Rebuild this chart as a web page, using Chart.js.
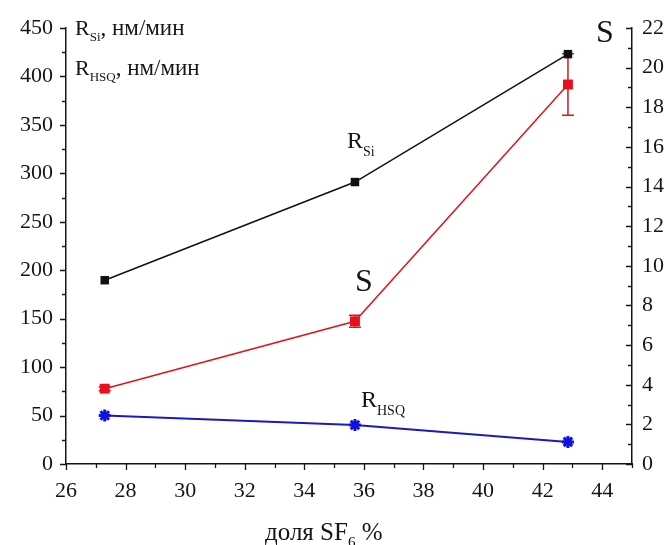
<!DOCTYPE html>
<html>
<head>
<meta charset="utf-8">
<script src="https://cdn.jsdelivr.net/npm/chart.js@4.4.1/dist/chart.umd.min.js"></script>
<style>
    body { margin: 0; background: #fff; }
    #wrap { width: 672px; height: 545px; position: relative; }
</style>
</head>
<body>
<div id="wrap"><canvas id="etchChart"></canvas></div>
<script>
// SF6 share, %
const sf6Share = [27.3, 35.7, 42.85];
// etch rates, nm/min (left axis)
const rateSi = [189.7, 291, 423];
const rateHsq = [50, 40.3, 22.8];
// selectivity (right axis) and its spread
const selectivity = [3.8, 7.2, 19.15];
const selectivityErr = [0.1, 0.3, 1.55];

// tick values
const xTicks = [26, 28, 30, 32, 34, 36, 38, 40, 42, 44];
const rateTicks = [0, 50, 100, 150, 200, 250, 300, 350, 400, 450];
const selTicks = [0, 2, 4, 6, 8, 10, 12, 14, 16, 18, 20, 22];

const serif = '"Liberation Serif", "Times New Roman", serif';
const ink = '#151515';

function points(xs, ys) {
    return xs.map((x, i) => ({ x: x, y: ys[i] }));
}

// text with sub-scripts: parts = [[text, size, dy], ...]
function drawParts(ctx, x, y, parts) {
    let cx = x;
    parts.forEach(p => {
        ctx.font = p[1] + 'px ' + serif;
        ctx.fillText(p[0], cx, y + (p[2] || 0));
        cx += ctx.measureText(p[0]).width;
    });
}

const errorBars = {
    id: 'errorBars',
    beforeDatasetsDraw(chart) {
        const ctx = chart.ctx;
        const xs = chart.scales.x, ys = chart.scales.y1;
        ctx.save();
        ctx.strokeStyle = '#e0141c';
        ctx.lineWidth = 1.5;
        sf6Share.forEach((v, i) => {
            const px = xs.getPixelForValue(v);
            const top = ys.getPixelForValue(selectivity[i] + selectivityErr[i]);
            const bot = ys.getPixelForValue(selectivity[i] - selectivityErr[i]);
            ctx.beginPath();
            ctx.moveTo(px, top); ctx.lineTo(px, bot);
            ctx.moveTo(px - 6, top); ctx.lineTo(px + 6, top);
            ctx.moveTo(px - 6, bot); ctx.lineTo(px + 6, bot);
            ctx.stroke();
        });
        ctx.restore();
    }
};

const axisDecor = {
    id: 'axisDecor',
    afterDraw(chart) {
        const ctx = chart.ctx;
        const a = chart.chartArea;
        const xs = chart.scales.x, yl = chart.scales.y, yr = chart.scales.y1;
        ctx.save();
        ctx.strokeStyle = ink;
        ctx.lineWidth = 1.3;
        ctx.beginPath();
        // x: ticks point down, minor every 1
        for (let v = 26; v <= 45; v++) {
            const px = Math.round(xs.getPixelForValue(v)) + 0.5;
            const len = v % 2 === 0 ? 6 : 4;
            ctx.moveTo(px, a.bottom); ctx.lineTo(px, a.bottom + len);
        }
        // left: ticks point out, minor every 25
        for (let v = 0; v <= 450; v += 25) {
            const py = Math.round(yl.getPixelForValue(v)) + 0.5;
            const len = v % 50 === 0 ? 6 : 4;
            ctx.moveTo(a.left, py); ctx.lineTo(a.left - len, py);
        }
        // right: ticks point in, minor every 1
        for (let v = 0; v <= 22; v++) {
            const py = Math.round(yr.getPixelForValue(v)) + 0.5;
            const len = v % 2 === 0 ? 6 : 4;
            ctx.moveTo(a.right, py); ctx.lineTo(a.right - len, py);
        }
        ctx.stroke();

        ctx.fillStyle = ink;
        ctx.textBaseline = 'alphabetic';
        ctx.textAlign = 'left';
        // units legend, top left
        drawParts(ctx, 75, 35, [['R', 22], ['Si', 13, 6], [', нм/мин', 23]]);
        drawParts(ctx, 75, 75, [['R', 22], ['HSQ', 13, 6], [', нм/мин', 23]]);
        // curve labels
        drawParts(ctx, 347, 148, [['R', 24], ['Si', 14, 8]]);
        drawParts(ctx, 361, 407, [['R', 24], ['HSQ', 14, 8]]);
        drawParts(ctx, 355, 291, [['S', 32]]);
        drawParts(ctx, 596, 42, [['S', 32]]);
        // x axis title
        drawParts(ctx, 265, 540, [['доля SF', 25], ['6', 15, 7], [' %', 25]]);
        ctx.restore();
    }
};

new Chart(document.getElementById('etchChart'), {
    type: 'line',
    data: {
        datasets: [
            {
                label: 'R_Si',
                data: points(sf6Share, rateSi),
                yAxisID: 'y',
                borderColor: '#111',
                borderWidth: 1.5,
                pointStyle: 'rect',
                pointRadius: 6,
                pointBackgroundColor: '#111',
                pointBorderColor: '#111',
                pointBorderWidth: 0
            },
            {
                label: 'S',
                data: points(sf6Share, selectivity),
                yAxisID: 'y1',
                borderColor: '#e0141c',
                borderWidth: 1.5,
                pointStyle: 'rect',
                pointRadius: 7,
                pointBackgroundColor: '#e8101a',
                pointBorderColor: '#e8101a',
                pointBorderWidth: 0
            },
            {
                label: 'R_HSQ',
                data: points(sf6Share, rateHsq),
                yAxisID: 'y',
                borderColor: '#1a1ac0',
                borderWidth: 2,
                pointStyle: 'star',
                pointRadius: 6,
                pointBorderColor: '#1010e0',
                pointBorderWidth: 3
            }
        ]
    },
    options: {
        responsive: true,
        maintainAspectRatio: false,
        animation: false,
        layout: { padding: { top: 28, left: 0, right: 0, bottom: 0 } },
        plugins: { legend: { display: false }, tooltip: { enabled: false } },
        scales: {
            x: {
                type: 'linear',
                min: 26,
                max: 45,
                afterBuildTicks: s => { s.ticks = xTicks.map(v => ({ value: v })); },
                afterFit: s => { s.height = 81; },
                grid: { display: false, drawTicks: false },
                border: { display: true, color: ink, width: 1.5 },
                ticks: { padding: 14, color: ink, font: { family: serif, size: 22 }, maxRotation: 0 }
            },
            y: {
                position: 'left',
                min: 0,
                max: 450,
                afterBuildTicks: s => { s.ticks = rateTicks.map(v => ({ value: v })); },
                afterFit: s => { s.width = 66; },
                grid: { display: false, drawTicks: false },
                border: { display: true, color: ink, width: 1.5 },
                ticks: { padding: 13, color: ink, font: { family: serif, size: 22 } }
            },
            y1: {
                position: 'right',
                min: 0,
                max: 22,
                afterBuildTicks: s => { s.ticks = selTicks.map(v => ({ value: v })); },
                afterFit: s => { s.width = 40; },
                grid: { display: false, drawTicks: false },
                border: { display: true, color: ink, width: 1.5 },
                ticks: { padding: 10, color: ink, font: { family: serif, size: 22 } }
            }
        }
    },
    plugins: [errorBars, axisDecor]
});
</script>
</body>
</html>
